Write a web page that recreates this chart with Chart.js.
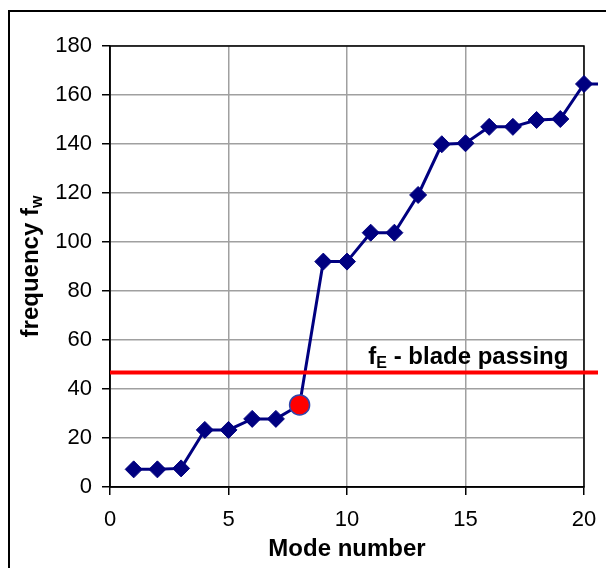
<!DOCTYPE html>
<html>
<head>
<meta charset="utf-8">
<script src="https://cdn.jsdelivr.net/npm/chart.js@4.4.0/dist/chart.umd.min.js"></script>
<style>
  html, body { margin: 0; padding: 0; background: #fff; }
  #wrap { position: relative; width: 606px; height: 568px; overflow: hidden; }
  #frame { position: absolute; left: 8px; top: 10px; width: 700px; height: 700px;
           border-left: 2px solid #000; border-top: 2px solid #000; }
  #plot { position: absolute; left: 0; top: 0; }
</style>
</head>
<body>
<div id="wrap">
  <div id="frame"></div>
  <canvas id="plot" width="598" height="568"></canvas>
</div>
<script>
// Mode numbers and natural frequencies
var modes = [1, 2, 3, 4, 5, 6, 7, 8, 9, 10, 11, 12, 13, 14, 15, 16, 17, 18, 19, 20, 21];
var freq = [7.2, 7.2, 7.6, 23.3, 23.3, 27.8, 27.8, 33.5, 92, 92, 103.8, 103.8,
            119.2, 139.9, 140.3, 147, 147, 149.8, 150.2, 164.5, 164.5];

// mode closest below the excitation line
var highlightMode = 8;

// blade passing excitation frequency, drawn across the whole plot
var bladePassing = 46.7;
var bladeSpan = [0, 21];

var xTicks = [0, 5, 10, 15, 20];
var yTicks = [0, 20, 40, 60, 80, 100, 120, 140, 160, 180];

var FONT = '"Liberation Sans", Arial, sans-serif';
Chart.defaults.font.family = FONT;

var modePoints = modes.map(function (m, i) { return { x: m, y: freq[i] }; });
var bladePoints = bladeSpan.map(function (m) { return { x: m, y: bladePassing }; });

var isHi = modes.map(function (m) { return m === highlightMode; });

// draws the plot frame and the texts that need subscripts
var extras = {
  id: 'extras',
  beforeDatasetsDraw: function (chart) {
    var a = chart.chartArea, ctx = chart.ctx;
    ctx.save();
    ctx.strokeStyle = '#000';
    ctx.lineWidth = 1.5;
    ctx.strokeRect(a.left, a.top, a.right - a.left, a.bottom - a.top);
    ctx.restore();
  },
  afterDraw: function (chart) {
    var a = chart.chartArea, ctx = chart.ctx;
    var xs = chart.scales.x, ys = chart.scales.y;
    ctx.save();
    ctx.fillStyle = '#000';
    ctx.textBaseline = 'alphabetic';

    // text with a subscript part, starting at x
    function subText(main, sub, x, y) {
      ctx.font = 'bold 24px ' + FONT;
      ctx.fillText(main, x, y);
      var w = ctx.measureText(main).width;
      ctx.font = 'bold 16px ' + FONT;
      ctx.fillText(sub, x + w, y + 4);
      return w + ctx.measureText(sub).width;
    }
    function subWidth(main, sub) {
      ctx.font = 'bold 24px ' + FONT;
      var w = ctx.measureText(main).width;
      ctx.font = 'bold 16px ' + FONT;
      return w + ctx.measureText(sub).width;
    }

    // x axis title
    ctx.font = 'bold 24px ' + FONT;
    ctx.textAlign = 'center';
    ctx.fillText('Mode number', (a.left + a.right) / 2, 556);

    // y axis title, rotated
    ctx.textAlign = 'left';
    ctx.save();
    ctx.translate(38, (a.top + a.bottom) / 2);
    ctx.rotate(-Math.PI / 2);
    var tw = subWidth('frequency f', 'w');
    subText('frequency f', 'w', -tw / 2, 0);
    ctx.restore();

    // label of the excitation line
    var lx = xs.getPixelForValue(10.9);
    var ly = ys.getPixelForValue(bladePassing) - 9;
    var w1 = subText('f', 'E', lx, ly);
    ctx.font = 'bold 24px ' + FONT;
    ctx.fillText(' - blade passing', lx + w1, ly);
    ctx.restore();
  }
};

var chart = new Chart(document.getElementById('plot'), {
  type: 'line',
  data: {
    datasets: [
      {
        label: 'blade passing',
        data: bladePoints,
        borderColor: '#ff0000',
        borderWidth: 4,
        pointRadius: 0,
        clip: false,
        order: 0
      },
      {
        label: 'modes',
        data: modePoints,
        borderColor: '#000080',
        borderWidth: 3,
        clip: false,
        order: 1,
        pointStyle: isHi.map(function (h) { return h ? 'circle' : 'rectRot'; }),
        pointRadius: isHi.map(function (h) { return h ? 10 : 8.5; }),
        pointBackgroundColor: isHi.map(function (h) { return h ? '#ff0000' : '#000080'; }),
        pointBorderColor: isHi.map(function (h) { return h ? '#3344aa' : '#000080'; }),
        pointBorderWidth: isHi.map(function (h) { return h ? 1.5 : 1; })
      }
    ]
  },
  options: {
    responsive: false,
    animation: false,
    layout: { padding: { left: 0, right: 14, top: 46, bottom: 0 } },
    plugins: { legend: { display: false }, tooltip: { enabled: false } },
    scales: {
      x: {
        type: 'linear',
        // range set after the data limits so the line may run past 20
        afterDataLimits: function (s) { s.min = 0; s.max = 20; },
        afterBuildTicks: function (s) { s.ticks = xTicks.map(function (v) { return { value: v }; }); },
        afterFit: function (s) { s.height = 81; s.paddingLeft = 0; s.paddingRight = 0; },
        ticks: { color: '#000', font: { size: 22 }, padding: 12, maxRotation: 0 },
        grid: { color: '#a0a0a0', lineWidth: 1.5, tickLength: 8, tickColor: '#000' },
        border: { color: '#000', width: 1.5 }
      },
      y: {
        min: 0,
        max: 180,
        afterBuildTicks: function (s) { s.ticks = yTicks.map(function (v) { return { value: v }; }); },
        afterFit: function (s) { s.width = 110; s.paddingTop = 0; s.paddingBottom = 0; },
        ticks: { color: '#000', font: { size: 22 }, padding: 10 },
        grid: { color: '#a0a0a0', lineWidth: 1.5, tickLength: 8, tickColor: '#000' },
        border: { color: '#000', width: 1.5 }
      }
    }
  },
  plugins: [extras]
});
</script>
</body>
</html>
